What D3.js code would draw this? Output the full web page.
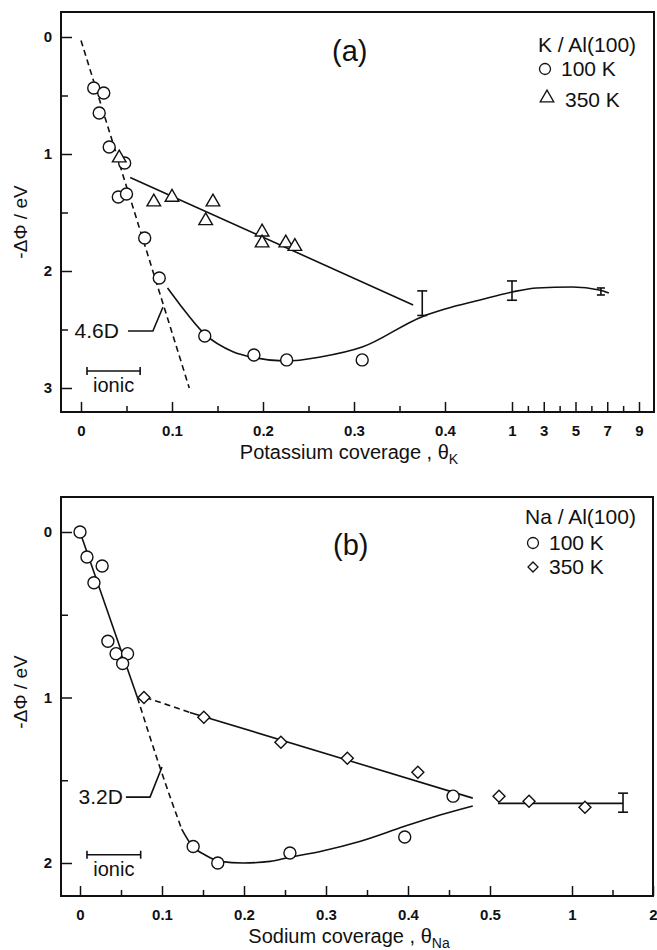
<!DOCTYPE html>
<html><head><meta charset="utf-8">
<script src="https://cdn.jsdelivr.net/npm/d3@7"></script>
<style>
body{margin:0;background:#fff}
text{font-family:"Liberation Sans",Arial,Helvetica,sans-serif;fill:#111}
</style>
</head><body>
<svg id="chart" width="657" height="950"></svg>
<script>
// ---------------- Panel (a): K / Al(100) ----------------
const aXMajor = [0, 0.1, 0.2, 0.3, 0.4, 1, 3, 5, 7, 9];
const aXMinor = [0.05, 0.15, 0.25, 0.35, 2, 4, 6, 8];
const aYMajor = [0, 1, 2, 3];
const aYMinor = [0.5, 1.5, 2.5];
const aCircles100 = [[0.014,0.436],[0.025,0.479],[0.020,0.65],[0.031,0.94],[0.048,1.077],[0.041,1.368],[0.050,1.342],[0.070,1.718],[0.086,2.06],[0.136,2.556],[0.190,2.718],[0.226,2.76],[0.309,2.76]];
const aTriangles350 = [[0.042,1.034],[0.080,1.41],[0.100,1.37],[0.145,1.41],[0.137,1.57],[0.199,1.667],[0.199,1.76],[0.225,1.76],[0.235,1.79]];
const aDashedIonic = [[0,0.03],[0.119,3.0]];
const aLine350 = [[0.054,1.2],[0.365,2.29]];
const aCurve100 = [[0.095,2.145],[0.109,2.29],[0.136,2.54],[0.167,2.69],[0.19,2.74],[0.226,2.77],[0.263,2.735],[0.309,2.65],[0.375,2.39],[0.4,2.325],[0.713,2.248],[1,2.18],[2.56,2.145],[4.81,2.137],[6.5,2.162],[7.1,2.188]];
const aErrorBars = [{x:0.375,lo:2.17,hi:2.38,w:10},{x:1,lo:2.085,hi:2.25,w:10},{x:6.6,lo:2.145,hi:2.205,w:8}];
const aLeader = [[0.0516,2.513],[0.079,2.513],[0.090,2.31]];
const aIonicBar = [0.0066,0.065,2.855];

// ---------------- Panel (b): Na / Al(100) ----------------
const bXMajor = [0, 0.1, 0.2, 0.3, 0.4, 0.5, 1, 2];
const bXMinor = [0.05, 0.15, 0.25, 0.35, 0.45, 1.5];
const bYMajor = [0, 1, 2];
const bYMinor = [0.5, 1.5];
const bCircles100 = [[0,0.0],[0.0085,0.151],[0.027,0.205],[0.017,0.307],[0.034,0.66],[0.044,0.735],[0.058,0.735],[0.052,0.795],[0.138,1.9],[0.168,2.0],[0.256,1.94],[0.396,1.843],[0.455,1.596]];
const bDiamonds350 = [[0.078,1.0],[0.151,1.12],[0.245,1.27],[0.326,1.367],[0.412,1.452],[0.555,1.596],[0.738,1.627],[1.16,1.663]];
const bLine100 = [[0,0],[0.07,1.0]];
const bDashed100 = [[0.07,1.0],[0.096,1.40],[0.112,1.63],[0.124,1.795]];
const bCurve100 = [[0.124,1.795],[0.137,1.898],[0.152,1.95],[0.171,1.99],[0.199,2.0],[0.232,1.99],[0.256,1.965],[0.293,1.93],[0.341,1.87],[0.395,1.78],[0.439,1.71],[0.479,1.655]];
const bDashed350 = [[0.08,1.0],[0.134,1.09]];
const bLine350 = [[0.134,1.09],[0.479,1.608]];
const bLineFlat = [[0.549,1.64],[1.63,1.64]];
const bErrorBars = [{x:1.63,lo:1.578,hi:1.693,w:10}];
const bLeader = [[0.056,1.602],[0.0854,1.602],[0.100,1.42]];
const bIonicBar = [0.0085,0.074,1.95];

const svg = d3.select('#chart');

function panel(cfg){
  const g = svg.append('g');
  const x = cfg.x, y = cfg.y;
  g.append('rect').attr('x',cfg.L).attr('y',cfg.T).attr('width',cfg.R-cfg.L).attr('height',cfg.B-cfg.T)
    .attr('fill','none').attr('stroke','#111').attr('stroke-width',2);
  const fmt = d => String(d);
  const styleAxis = (sel) => {
    sel.select('.domain').remove();
    sel.selectAll('line').attr('stroke','#111').attr('stroke-width',1.5);
    sel.selectAll('text').style('font-size','15px').style('font-weight','bold').attr('fill','#111');
  };
  g.append('g').attr('transform',`translate(0,${cfg.B})`)
    .call(d3.axisBottom(x).tickValues(cfg.xMaj).tickSizeInner(-10).tickSizeOuter(0).tickPadding(13).tickFormat(fmt))
    .call(styleAxis);
  g.append('g').attr('transform',`translate(0,${cfg.B})`)
    .call(d3.axisBottom(x).tickValues(cfg.xMin).tickSizeInner(-6).tickSizeOuter(0).tickFormat(''))
    .call(styleAxis);
  g.append('g').attr('transform',`translate(${cfg.L},0)`)
    .call(d3.axisLeft(y).tickValues(cfg.yMaj).tickSizeInner(-11).tickSizeOuter(0).tickPadding(9).tickFormat(fmt))
    .call(styleAxis);
  g.append('g').attr('transform',`translate(${cfg.L},0)`)
    .call(d3.axisLeft(y).tickValues(cfg.yMin).tickSizeInner(-7).tickSizeOuter(0).tickFormat(''))
    .call(styleAxis);
  return g;
}

function drawLine(g, x, y, pts, dashed, curve){
  const line = d3.line().x(d=>x(d[0])).y(d=>y(d[1])).curve(curve || d3.curveLinear);
  g.append('path').attr('d', line(pts)).attr('fill','none').attr('stroke','#111')
    .attr('stroke-width',1.6).attr('stroke-dasharray', dashed ? '6,4' : null);
}
function drawErr(g, x, y, bars){
  bars.forEach(b=>{
    const px = x(b.x);
    g.append('line').attr('x1',px).attr('x2',px).attr('y1',y(b.lo)).attr('y2',y(b.hi)).attr('stroke','#111').attr('stroke-width',1.6);
    [b.lo,b.hi].forEach(v=>g.append('line').attr('x1',px-b.w/2).attr('x2',px+b.w/2).attr('y1',y(v)).attr('y2',y(v)).attr('stroke','#111').attr('stroke-width',1.6));
  });
}
function drawIonic(g, x, y, bar, textY){
  const [x0,x1,yv] = bar;
  g.append('line').attr('x1',x(x0)).attr('x2',x(x1)).attr('y1',y(yv)).attr('y2',y(yv)).attr('stroke','#111').attr('stroke-width',1.6);
  [x0,x1].forEach(v=>g.append('line').attr('x1',x(v)).attr('x2',x(v)).attr('y1',y(yv)-4).attr('y2',y(yv)+4).attr('stroke','#111').attr('stroke-width',1.6));
  g.append('text').attr('x',(x(x0)+x(x1))/2).attr('y',textY).attr('text-anchor','middle').style('font-size','20px').text('ionic');
}
function circles(g,x,y,pts,r){
  g.selectAll(null).data(pts).enter().append('circle').attr('cx',d=>x(d[0])).attr('cy',d=>y(d[1])).attr('r',r)
    .attr('fill','#fff').attr('stroke','#111').attr('stroke-width',1.4);
}
function symbols(g,x,y,pts,type,size,rot){
  g.selectAll(null).data(pts).enter().append('path').attr('d',d3.symbol().type(type).size(size)())
    .attr('transform',d=>`translate(${x(d[0])},${y(d[1])}) rotate(${rot||0})`)
    .attr('fill','#fff').attr('stroke','#111').attr('stroke-width',1.4);
}

// ===== Panel (a) =====
const xA = d3.scaleLinear().domain([0,0.4,1,9]).range([81,445,512,639]);
const yA = d3.scaleLinear().domain([0,3]).range([37,388]);
const gA = panel({x:xA,y:yA,L:61,R:654,T:12,B:412,xMaj:aXMajor,xMin:aXMinor,yMaj:aYMajor,yMin:aYMinor});
drawLine(gA,xA,yA,aDashedIonic,true);
drawLine(gA,xA,yA,aLine350,false);
drawLine(gA,xA,yA,aCurve100,false,d3.curveMonotoneX);
drawErr(gA,xA,yA,aErrorBars);
drawLine(gA,xA,yA,aLeader,false);
gA.append('text').attr('x',xA(aLeader[0][0])-9).attr('y',yA(aLeader[0][1])+7).attr('text-anchor','end').style('font-size','21px').text('4.6D');
drawIonic(gA,xA,yA,aIonicBar,392);
circles(gA,xA,yA,aCircles100,6);
symbols(gA,xA,yA,aTriangles350,d3.symbolTriangle,80,0);
gA.append('text').attr('x',332).attr('y',61).style('font-size','29px').text('(a)');
gA.append('text').attr('x',538).attr('y',52).style('font-size','21px').text('K / Al(100)');
gA.append('circle').attr('cx',545).attr('cy',69).attr('r',5.5).attr('fill','#fff').attr('stroke','#111').attr('stroke-width',1.3);
gA.append('text').attr('x',561).attr('y',76).style('font-size','21px').text('100 K');
gA.append('path').attr('d',d3.symbol().type(d3.symbolTriangle).size(80)()).attr('transform','translate(547,98)')
  .attr('fill','#fff').attr('stroke','#111').attr('stroke-width',1.3);
gA.append('text').attr('x',565).attr('y',107).style('font-size','21px').text('350 K');
const tA = gA.append('text').attr('x',349).attr('y',459).attr('text-anchor','middle').style('font-size','20px');
tA.append('tspan').text('Potassium coverage , θ');
tA.append('tspan').attr('dy',5).style('font-size','14px').text('K');
gA.append('text').attr('transform','translate(27,222) rotate(-90)').attr('text-anchor','middle').style('font-size','19px').text('-ΔΦ / eV');

// ===== Panel (b) =====
const xB = d3.scaleLinear().domain([0,0.5,1,2]).range([80,490,572,653]);
const yB = d3.scaleLinear().domain([0,2]).range([532,863]);
const gB = panel({x:xB,y:yB,L:61,R:653,T:497,B:896,xMaj:bXMajor,xMin:bXMinor,yMaj:bYMajor,yMin:bYMinor});
drawLine(gB,xB,yB,bLine100,false);
drawLine(gB,xB,yB,bDashed100,true,d3.curveMonotoneX);
drawLine(gB,xB,yB,bCurve100,false,d3.curveMonotoneX);
drawLine(gB,xB,yB,bDashed350,true);
drawLine(gB,xB,yB,bLine350,false);
drawLine(gB,xB,yB,bLineFlat,false);
drawErr(gB,xB,yB,bErrorBars);
drawLine(gB,xB,yB,bLeader,false);
gB.append('text').attr('x',xB(bLeader[0][0])-3).attr('y',yB(bLeader[0][1])+7).attr('text-anchor','end').style('font-size','21px').text('3.2D');
drawIonic(gB,xB,yB,bIonicBar,876);
circles(gB,xB,yB,bCircles100,6);
symbols(gB,xB,yB,bDiamonds350,d3.symbolSquare,72,45);
gB.append('text').attr('x',333).attr('y',555).style('font-size','29px').text('(b)');
gB.append('text').attr('x',525).attr('y',524).style('font-size','21px').text('Na / Al(100)');
gB.append('circle').attr('cx',533).attr('cy',543).attr('r',5.5).attr('fill','#fff').attr('stroke','#111').attr('stroke-width',1.3);
gB.append('text').attr('x',549).attr('y',550).style('font-size','21px').text('100 K');
gB.append('path').attr('d',d3.symbol().type(d3.symbolSquare).size(50)()).attr('transform','translate(533,567) rotate(45)')
  .attr('fill','#fff').attr('stroke','#111').attr('stroke-width',1.3);
gB.append('text').attr('x',549).attr('y',574).style('font-size','21px').text('350 K');
const tB = gB.append('text').attr('x',349).attr('y',943).attr('text-anchor','middle').style('font-size','20px');
tB.append('tspan').text('Sodium coverage , θ');
tB.append('tspan').attr('dy',5).style('font-size','14px').text('Na');
gB.append('text').attr('transform','translate(27,692) rotate(-90)').attr('text-anchor','middle').style('font-size','19px').text('-ΔΦ / eV');
</script>
</body></html>
